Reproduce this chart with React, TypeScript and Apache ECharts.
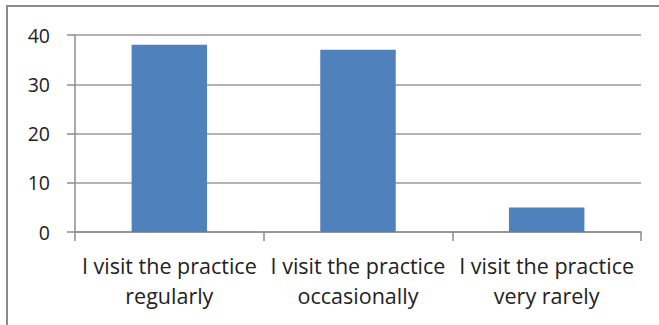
import React, { useEffect, useRef } from "react";
import * as echarts from "echarts";

const categories = [
  "I visit the practice\nregularly",
  "I visit the practice\noccasionally",
  "I visit the practice\nvery rarely",
];
const visits = [38, 37, 5];
const yTicks = [0, 10, 20, 30, 40];

export default function App() {
  const ref = useRef<HTMLDivElement>(null);

  useEffect(() => {
    if (!ref.current) return;
    const chart = echarts.init(ref.current, undefined, { renderer: "svg" });
    chart.setOption({
      animation: false,
      backgroundColor: "#ffffff",
      graphic: [
        {
          type: "rect",
          shape: { x: 7, y: 6, width: 660, height: 330 },
          style: { fill: "none", stroke: "#8a8a8a", lineWidth: 2 },
          silent: true,
        },
      ],
      grid: { left: 75, right: 18, top: 35, bottom: 93, containLabel: false },
      xAxis: {
        type: "category",
        data: categories,
        axisLine: { show: true, lineStyle: { color: "#8c8c8c", width: 1.5 } },
        axisTick: { show: true, length: 9, alignWithLabel: false, lineStyle: { color: "#8c8c8c", width: 1.5 } },
        axisLabel: {
          interval: 0,
          margin: 18,
          color: "#222",
          fontFamily: "Open Sans",
          fontSize: 21.5,
          lineHeight: 30,
        },
      },
      yAxis: {
        type: "value",
        min: yTicks[0],
        max: yTicks[yTicks.length - 1],
        interval: 10,
        axisLine: { show: true, lineStyle: { color: "#8c8c8c", width: 1.5 } },
        axisTick: { show: true, length: 8, lineStyle: { color: "#8c8c8c", width: 1.5 } },
        splitLine: { show: true, lineStyle: { color: "#9a9a9a", width: 1.5 } },
        axisLabel: {
          margin: 25,
          color: "#222",
          fontFamily: "Open Sans",
          fontSize: 19.5,
        },
      },
      series: [
        {
          type: "bar",
          data: visits,
          barWidth: "40%",
          itemStyle: { color: "#4f81bd" },
        },
      ],
    });
    return () => chart.dispose();
  }, []);

  return (
    <div
      ref={ref}
      style={{ position: "fixed", left: 0, top: 0, width: 659, height: 325 }}
    />
  );
}
